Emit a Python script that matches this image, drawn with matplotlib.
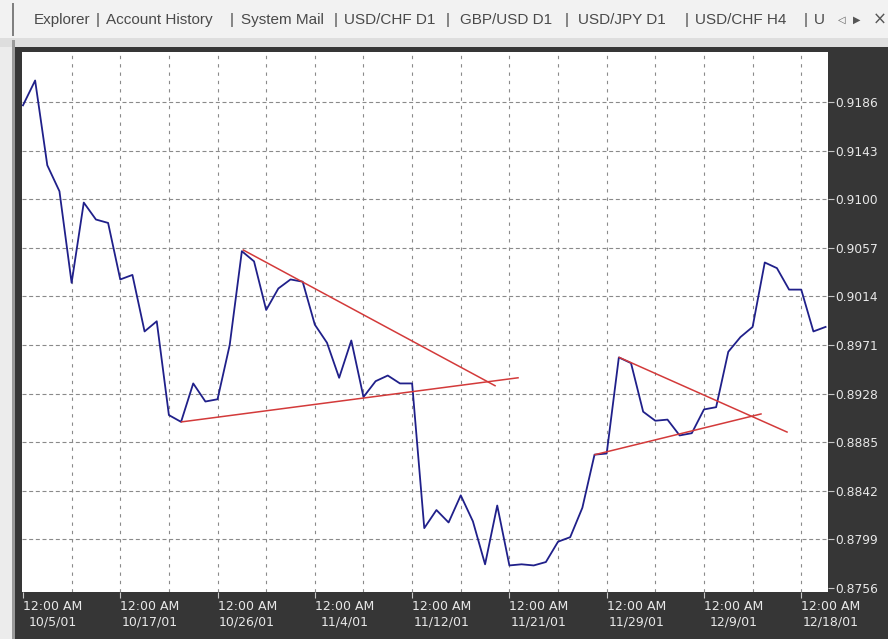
# -*- coding: utf-8 -*-

import matplotlib
matplotlib.use('Agg')
import matplotlib.pyplot as plt
from matplotlib.patches import Rectangle

# USD/CHF D1 close prices, one per bar
prices = [0.9183, 0.9205, 0.9130, 0.9107, 0.9026, 0.9097, 0.9082, 0.9079, 0.9029, 0.9033,
          0.8983, 0.8992, 0.8909, 0.8903, 0.8937, 0.8921, 0.8923, 0.8971, 0.9054, 0.9045,
          0.9002, 0.9021, 0.9029, 0.9027, 0.8989, 0.8973, 0.8942, 0.8975, 0.8925, 0.8939,
          0.8944, 0.8937, 0.8937, 0.8809, 0.8825, 0.8814, 0.8838, 0.8815, 0.8777, 0.8829,
          0.8776, 0.8777, 0.8776, 0.8779, 0.8797, 0.8801, 0.8827, 0.8874, 0.8875, 0.8960,
          0.8955, 0.8912, 0.8904, 0.8905, 0.8891, 0.8893, 0.8914, 0.8916, 0.8965, 0.8978,
          0.8987, 0.9044, 0.9039, 0.9020, 0.9020, 0.8983, 0.8987]

# trend lines (bar, price) start/end
trend_x = [[18.12, 38.82], [13.05, 40.71], [49.04, 62.83], [47.04, 60.69]]
trend_y = [[0.9055, 0.8935], [0.8903, 0.8942], [0.8960, 0.8894], [0.8874, 0.8910]]

# axis labels
price_levels = [0.8756, 0.8799, 0.8842, 0.8885, 0.8928, 0.8971, 0.9014, 0.9057, 0.9100, 0.9143, 0.9186]
price_labels = ['0.8756', '0.8799', '0.8842', '0.8885', '0.8928', '0.8971', '0.9014', '0.9057', '0.9100', '0.9143', '0.9186']
date_bars = [0, 8, 16, 24, 32, 40, 48, 56, 64]
date_labels = ['10/5/01', '10/17/01', '10/26/01', '11/4/01', '11/12/01', '11/21/01', '11/29/01', '12/9/01', '12/18/01']

tabs = ['Explorer', '|', 'Account History', '|', 'System Mail', '|', 'USD/CHF D1', '|',
        'GBP/USD D1', '|', 'USD/JPY D1', '|', 'USD/CHF H4', '|', 'U']
tab_px = [34, 96, 106, 230, 241, 334, 344, 446, 460, 565, 578, 685, 695, 804, 814]

W, H = 888, 639
fig = plt.figure(figsize=(W / 100, H / 100), dpi=100, facecolor='#ececec')


def box(x, y, w, h, color):
    fig.add_artist(Rectangle((x / W, 1 - (y + h) / H), w / W, h / H,
                             transform=fig.transFigure, facecolor=color, edgecolor='none', zorder=0))


# window frame
box(0, 0, W, 38, '#f2f2f2')
box(0, 38, W, 9, '#dedede')
box(15, 47, W - 15, H - 47, '#363636')
box(12, 3, 2, 33, '#808080')
box(12, 40, 3, H - 40, '#9a9a9a')

# tab bar text
for t, px in zip(tabs, tab_px):
    fig.text(px / W, 1 - 20 / H, t, ha='left', va='center', fontsize=11,
             family=['Liberation Sans', 'DejaVu Sans'], color='#4a4a4a')
fig.text(838 / W, 1 - 20 / H, '◁', ha='left', va='center', fontsize=7, color='#555555')
fig.text(853 / W, 1 - 20 / H, '▶', ha='left', va='center', fontsize=7, color='#555555')
fig.text(873 / W, 1 - 20 / H, '×', ha='left', va='center', fontsize=12, color='#555555')

ax = fig.add_axes([22 / W, 1 - 592 / H, (828 - 22) / W, (592 - 52) / H])
ax.set_facecolor('white')
for s in ax.spines.values():
    s.set_visible(False)

# dashed grid
for lv in price_levels[1:]:
    ax.axhline(lv, color='#8a8a8a', lw=0.8, ls=(0, (3.6, 2.4)), zorder=1)
for b in range(4, 65, 4):
    ax.axvline(b, color='#8a8a8a', lw=0.8, ls=(0, (3.0, 4.5)), zorder=1)

# price line + trend lines
ax.plot(range(len(prices)), prices, color='#20208a', lw=1.3, zorder=3)
for tx, ty in zip(trend_x, trend_y):
    ax.plot(tx, ty, color='#d33a3a', lw=1.1, zorder=4)

ax.set_xlim(-0.08, 66.2)
ax.set_ylim(0.87525, 0.92302)

ax.yaxis.tick_right()
ax.set_yticks(price_levels)
ax.set_yticklabels(price_labels)
ax.set_xticks(date_bars)
ax.set_xticklabels(['12:00 AM\n' + d for d in date_labels])
for lab in ax.get_xticklabels():
    lab.set_ha('left')
    lab.set_multialignment('center')
ax.tick_params(axis='y', colors='#c8c8c8', labelcolor='#e8e8e8', length=4, width=0.8,
               labelsize=8.8, pad=1.5)
ax.tick_params(axis='x', colors='#c8c8c8', labelcolor='#e8e8e8', length=4, width=0.8,
               labelsize=9, pad=2)

plt.savefig('out.png', dpi=100, facecolor=fig.get_facecolor())
